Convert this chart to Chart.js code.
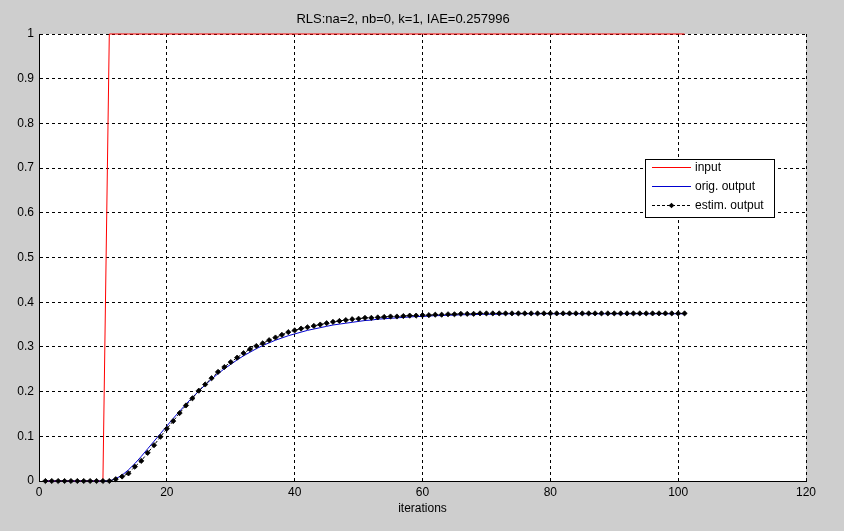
<!DOCTYPE html>
<html><head><meta charset="utf-8">
<script src="https://cdn.jsdelivr.net/npm/chart.js@4/dist/chart.umd.min.js"></script>
<style>html,body{margin:0;padding:0;background:#cecece;overflow:hidden}#wrap{width:844px;height:531px;position:relative}</style>
</head><body><div id="wrap"><canvas id="c" width="844" height="531"></canvas></div>
<script>
const titleText = 'RLS:na=2, nb=0, k=1, IAE=0.257996';
const xLabel = 'iterations';
const legendLabels = ['input', 'orig. output', 'estim. output'];
const xTicks = [0, 20, 40, 60, 80, 100, 120];
const yTicks = [0, 0.1, 0.2, 0.3, 0.4, 0.5, 0.6, 0.7, 0.8, 0.9, 1];

const iterations = [1,2,3,4,5,6,7,8,9,10,11,12,13,14,15,16,17,18,19,20,
21,22,23,24,25,26,27,28,29,30,31,32,33,34,35,36,37,38,39,40,
41,42,43,44,45,46,47,48,49,50,51,52,53,54,55,56,57,58,59,60,
61,62,63,64,65,66,67,68,69,70,71,72,73,74,75,76,77,78,79,80,
81,82,83,84,85,86,87,88,89,90,91,92,93,94,95,96,97,98,99,100,101];

const inputSignal = [0,0,0,0,0,0,0,0,0,0,1,1,1,1,1,1,1,1,1,1,
1,1,1,1,1,1,1,1,1,1,1,1,1,1,1,1,1,1,1,1,
1,1,1,1,1,1,1,1,1,1,1,1,1,1,1,1,1,1,1,1,
1,1,1,1,1,1,1,1,1,1,1,1,1,1,1,1,1,1,1,1,
1,1,1,1,1,1,1,1,1,1,1,1,1,1,1,1,1,1,1,1,1];

const origOutput = [0,0,0,0,0,0,0,0,0,0,0,0.005,0.013,0.025,0.039,0.055,0.072,0.089,0.106,0.123,
0.140,0.156,0.172,0.187,0.201,0.215,0.228,0.240,0.251,0.261,0.271,0.280,0.288,0.296,0.303,0.309,0.315,0.320,0.325,0.329,
0.333,0.337,0.340,0.343,0.346,0.349,0.351,0.353,0.355,0.357,0.359,0.360,0.362,0.363,0.364,0.365,0.366,0.367,0.368,0.368,
0.369,0.370,0.370,0.371,0.371,0.372,0.372,0.372,0.373,0.373,0.373,0.373,0.374,0.374,0.374,0.374,0.374,0.374,0.374,0.374,
0.374,0.374,0.374,0.374,0.374,0.374,0.374,0.374,0.374,0.374,0.374,0.374,0.374,0.374,0.374,0.374,0.374,0.374,0.374,0.374,0.374];

const estimOutput = [0,0,0,0,0,0,0,0,0,0,0,0.004,0.010,0.017,0.032,0.045,0.063,0.080,0.099,0.117,
0.134,0.152,0.169,0.185,0.202,0.216,0.230,0.244,0.255,0.266,0.276,0.286,0.295,0.302,0.308,0.315,0.321,0.327,0.333,0.337,
0.341,0.344,0.347,0.350,0.353,0.356,0.358,0.360,0.362,0.363,0.365,0.365,0.366,0.367,0.368,0.368,0.369,0.370,0.370,0.371,
0.371,0.372,0.372,0.373,0.373,0.374,0.374,0.374,0.375,0.375,0.375,0.375,0.375,0.375,0.375,0.375,0.375,0.375,0.375,0.375,
0.375,0.375,0.375,0.375,0.375,0.375,0.375,0.375,0.375,0.375,0.375,0.375,0.375,0.375,0.375,0.375,0.375,0.375,0.375,0.375,0.375];

const FONT = "'Liberation Sans', Arial, sans-serif";
const RED = '#ff0000', BLUE = '#0000d0', BLACK = '#000000';
const toXY = (ys) => iterations.map((x, i) => ({x: x, y: ys[i]}));

const areaBg = {
  id: 'areaBg',
  beforeDraw(chart) {
    const {ctx, chartArea: a} = chart;
    ctx.save();
    ctx.fillStyle = '#ffffff';
    ctx.fillRect(a.left, a.top, a.right - a.left, a.bottom - a.top);
    ctx.restore();
  }
};

const boxLegend = {
  id: 'boxLegend',
  afterDraw(chart) {
    const ctx = chart.ctx;
    const bx = 645.5, by = 159.5, bw = 129, bh = 58;
    ctx.save();
    ctx.fillStyle = '#ffffff';
    ctx.fillRect(bx, by, bw, bh);
    ctx.strokeStyle = BLACK;
    ctx.lineWidth = 1;
    ctx.strokeRect(bx, by, bw, bh);
    const rows = [167, 186, 205];
    ctx.font = '12px ' + FONT;
    ctx.textBaseline = 'middle';
    ctx.textAlign = 'left';
    ctx.fillStyle = RED;
    ctx.fillRect(652, rows[0], 39, 1);
    ctx.fillStyle = BLUE;
    ctx.fillRect(652, rows[1], 39, 1);
    ctx.fillStyle = BLACK;
    for (let x = 652; x < 691; x += 5) ctx.fillRect(x, rows[2], Math.min(3, 691 - x), 1);
    const cx = 671.5, cy = rows[2] + 0.5, r = 2.8;
    ctx.beginPath();
    ctx.moveTo(cx, cy - r); ctx.lineTo(cx + r, cy); ctx.lineTo(cx, cy + r); ctx.lineTo(cx - r, cy);
    ctx.closePath(); ctx.fill();
    for (let i = 0; i < 3; i++) {
      ctx.fillStyle = BLACK;
      ctx.fillText(legendLabels[i], 695, rows[i] + 0.5);
    }
    ctx.restore();
  }
};

new Chart(document.getElementById('c'), {
  type: 'line',
  data: {
    datasets: [
      {label: legendLabels[0], data: toXY(inputSignal), borderColor: RED, borderWidth: 1, pointRadius: 0, tension: 0, order: 2, clip: 4},
      {label: legendLabels[1], data: toXY(origOutput), borderColor: BLUE, borderWidth: 1, pointRadius: 0, tension: 0, order: 1, clip: 4},
      {label: legendLabels[2], data: toXY(estimOutput), borderColor: BLACK, borderWidth: 1, borderDash: [3, 2],
       pointRadius: 2.6, pointStyle: 'rectRot', pointBackgroundColor: BLACK, pointBorderColor: BLACK, pointBorderWidth: 0.8, tension: 0, order: 0, clip: 4}
    ]
  },
  options: {
    responsive: false,
    animation: false,
    devicePixelRatio: 1,
    layout: {padding: {left: 0, right: 38, top: 0, bottom: 0}},
    plugins: {
      legend: {display: false},
      tooltip: {enabled: false},
      title: {display: true, text: titleText, color: '#000', font: {family: FONT, size: 13, weight: 'normal', lineHeight: 1.2}, padding: {top: 12, bottom: 6.4}}
    },
    scales: {
      x: {
        type: 'linear', min: 0, max: 120,
        afterFit(s) { s.height = 50; },
        afterBuildTicks(s) { s.ticks = xTicks.map(v => ({value: v})); },
        ticks: {color: '#000', font: {family: FONT, size: 12}, padding: 4, maxRotation: 0, autoSkip: false},
        grid: {color: '#000', lineWidth: 1, drawTicks: false},
        border: {display: true, color: '#000', width: 1, dash: [3, 3]},
        title: {display: true, text: xLabel, color: '#000', font: {family: FONT, size: 12}, padding: {top: 0, bottom: 15.3}}
      },
      y: {
        type: 'linear', min: 0, max: 1,
        afterFit(s) { s.width = 39; },
        afterBuildTicks(s) { s.ticks = yTicks.map(v => ({value: v})); },
        ticks: {color: '#000', font: {family: FONT, size: 12}, padding: 5, autoSkip: false,
          callback: (v) => String(Math.round(v * 10) / 10)},
        grid: {color: '#000', lineWidth: 1, drawTicks: false},
        border: {display: true, color: '#000', width: 1, dash: [3, 3]}
      }
    }
  },
  plugins: [areaBg, boxLegend]
});
</script>
</body></html>
